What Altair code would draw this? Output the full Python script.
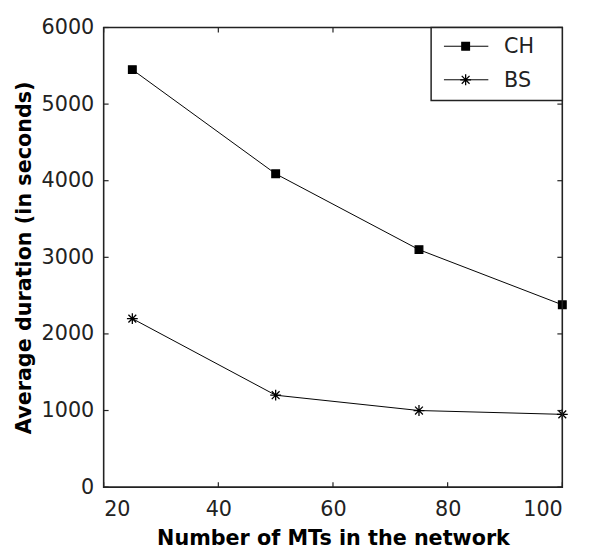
import altair as alt
import pandas as pd

series = ["CH", "BS"]
mts = [25, 50, 75, 100]
ch_values = [5450, 4090, 3100, 2380]
bs_values = [2200, 1200, 1000, 950]
x_ticks = [20, 40, 60, 80, 100]
y_ticks = [0, 1000, 2000, 3000, 4000, 5000, 6000]

rows = []
for x, v in zip(mts, ch_values):
    rows.append({"series": "CH", "mts": x, "dur": v})
for x, v in zip(mts, bs_values):
    rows.append({"series": "BS", "mts": x, "dur": v})
df = pd.DataFrame(rows)

W, H = 465, 466
FONT = "DejaVu Sans"
TFONT = "DejaVu Sans"
ASTERISK = "M-1,0L1,0M0,-1L0,1M-0.72,-0.72L0.72,0.72M-0.72,0.72L0.72,-0.72"

xscale = alt.Scale(domain=[20, 100], nice=False, zero=False)
yscale = alt.Scale(domain=[0, 6000], nice=False)
shape_scale = alt.Scale(domain=series, range=["square", ASTERISK])
size_scale = alt.Scale(domain=series, range=[60, 121])

x_axis = alt.Axis(values=x_ticks, title="Number of MTs in the network", format="d",
                  ticks=False, tickSize=0, domain=False, grid=False,
                  labelPadding=12, titlePadding=8)
y_axis = alt.Axis(values=y_ticks, title="Average duration (in seconds)", format="d",
                  ticks=False, tickSize=0, domain=False, grid=False,
                  labelPadding=10, titlePadding=7)

base = alt.Chart(df)

lines = base.mark_line(color="black", strokeWidth=1).encode(
    x=alt.X("mts:Q", scale=xscale, axis=x_axis),
    y=alt.Y("dur:Q", scale=yscale, axis=y_axis),
    detail="series:N",
)

points = base.mark_point(filled=True, fill="black", stroke="black",
                         strokeWidth=1.3, opacity=1).encode(
    x=alt.X("mts:Q", scale=xscale, axis=x_axis),
    y=alt.Y("dur:Q", scale=yscale, axis=y_axis),
    shape=alt.Shape("series:N", scale=shape_scale, legend=None),
    size=alt.Size("series:N", scale=size_scale, legend=None),
)

xt = pd.DataFrame({"mts": x_ticks})
yt = pd.DataFrame({"dur": y_ticks})
tick_style = dict(color="#222", strokeWidth=1.2)
ticks_bottom = alt.Chart(xt).mark_rule(**tick_style).encode(
    x=alt.X("mts:Q", scale=xscale, axis=x_axis), y=alt.value(H), y2=alt.value(H - 5))
ticks_top = alt.Chart(xt).mark_rule(**tick_style).encode(
    x=alt.X("mts:Q", scale=xscale, axis=x_axis), y=alt.value(0), y2=alt.value(5))
ticks_left = alt.Chart(yt).mark_rule(**tick_style).encode(
    y=alt.Y("dur:Q", scale=yscale, axis=y_axis), x=alt.value(0), x2=alt.value(5))
ticks_right = alt.Chart(yt).mark_rule(**tick_style).encode(
    y=alt.Y("dur:Q", scale=yscale, axis=y_axis), x=alt.value(W), x2=alt.value(W - 5))

frame = alt.Chart(pd.DataFrame({"a": [0]})).mark_rect(
    fill="transparent", stroke="#222", strokeWidth=1.6).encode(
    x=alt.value(0), x2=alt.value(W), y=alt.value(0), y2=alt.value(H))

# legend box
legend_layers = [
    alt.Chart(pd.DataFrame({"a": [0]})).mark_rect(
        fill="white", stroke="#222", strokeWidth=1.5).encode(
        x=alt.value(332), x2=alt.value(W), y=alt.value(0), y2=alt.value(74))
]
for i, s in enumerate(series):
    ly = 19 + 34 * i
    ldf = pd.DataFrame({"series": [s]})
    legend_layers.append(
        alt.Chart(ldf).mark_rule(color="black", strokeWidth=1).encode(
            x=alt.value(345), x2=alt.value(390), y=alt.value(ly)))
    legend_layers.append(
        alt.Chart(ldf).mark_point(filled=True, fill="black", stroke="black",
                                  strokeWidth=1.3, opacity=1).encode(
            x=alt.value(367), y=alt.value(ly),
            shape=alt.Shape("series:N", scale=shape_scale, legend=None),
            size=alt.Size("series:N", scale=size_scale, legend=None)))
    legend_layers.append(
        alt.Chart(ldf).mark_text(align="left", baseline="middle", font=FONT,
                                 fontSize=21, color="#222").encode(
            x=alt.value(406), y=alt.value(ly + 1), text="series:N"))

chart = alt.layer(
    lines, points, ticks_bottom, ticks_top, ticks_left, ticks_right, frame,
    *legend_layers
).properties(
    width=W, height=H,
    background="white",
    autosize=alt.AutoSizeParams(type="none"),
    padding={"left": 97, "top": 16, "right": 22, "bottom": 62},
).configure_view(
    stroke=None
).configure_axis(
    labelFont=FONT, labelFontSize=21, labelColor="#222",
    titleFont=TFONT, titleFontSize=21, titleFontWeight="bold", titleColor="black",
)

chart.save("out.html", embed_options={"renderer": "svg", "actions": False})
